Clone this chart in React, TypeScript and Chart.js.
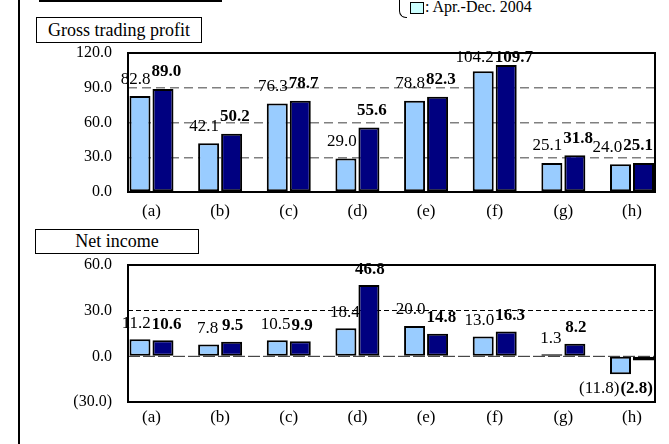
import React, { useEffect, useRef } from "react";
import { Chart, registerables } from "chart.js";

Chart.register(...registerables);

// ---------- data ----------
const categories = ["(a)", "(b)", "(c)", "(d)", "(e)", "(f)", "(g)", "(h)"];
const grossPrev = [82.8, 42.1, 76.3, 29.0, 78.8, 104.2, 25.1, 24.0];
const grossCurr = [89.0, 50.2, 78.7, 55.6, 82.3, 109.7, 31.8, 25.1];
const netPrev = [11.2, 7.8, 10.5, 18.4, 20.0, 13.0, 1.3, -11.8];
const netCurr = [10.6, 9.5, 9.9, 46.8, 14.8, 16.3, 8.2, -2.8];
const grossTicks = [0, 30, 60, 90, 120];
const netTicks = [-30, 0, 30, 60];
const legendLabel = ": Apr.-Dec. 2004";
const grossTitle = "Gross trading profit";
const netTitle = "Net income";

const SERIF = "'Liberation Serif', 'Times New Roman', serif";
const LIGHT = "#99ccff";
const DARK = "#000080";

const fmt = (v: number) => (v < 0 ? `(${Math.abs(v).toFixed(1)})` : v.toFixed(1));

const framePlugin = {
  id: "frame",
  beforeDatasetsDraw(chart: any, _args: any, opts: any) {
    if (!opts.zeroLine) return;
    const { ctx, chartArea } = chart;
    const y = chart.scales.y.getPixelForValue(0);
    ctx.save();
    ctx.strokeStyle = "#222";
    ctx.lineWidth = 1;
    ctx.setLineDash([12, 3]);
    ctx.beginPath();
    ctx.moveTo(chartArea.left, y);
    ctx.lineTo(chartArea.right, y);
    ctx.stroke();
    ctx.restore();
  },
  afterDatasetsDraw(chart: any, _args: any, opts: any) {
    const { ctx, chartArea } = chart;
    ctx.save();
    ctx.strokeStyle = "#000";
    ctx.lineWidth = 2;
    ctx.setLineDash([]);
    ctx.strokeRect(chartArea.left, chartArea.top, chartArea.right - chartArea.left, chartArea.bottom - chartArea.top);
    ctx.textAlign = "center";
    ctx.textBaseline = "middle";
    ctx.fillStyle = "#000";

    const fonts = [`17px ${SERIF}`, `bold 17px ${SERIF}`];
    const metas = chart.data.datasets.map((_: any, di: number) => chart.getDatasetMeta(di));
    const n = chart.data.datasets[0].data.length;
    for (let i = 0; i < n; i++) {
      const labels = chart.data.datasets.map((ds: any, di: number) => {
        const v = ds.data[i].y;
        const bar = metas[di].data[i];
        const text = fmt(v);
        ctx.font = fonts[di];
        const w = ctx.measureText(text).width;
        let cy;
        if (v >= 0) cy = Math.max(bar.y - opts.dy, chartArea.top + 5);
        else cy = bar.y + opts.dyNeg;
        return { v, text, w, cx: bar.x + opts.dx[di], cy, font: fonts[di] };
      });
      const [a, b] = labels;
      if (a.v < 0 && b.v < 0) {
        const y = Math.max(a.cy, b.cy);
        a.cy = y;
        b.cy = y;
      }
      if (Math.abs(a.cy - b.cy) < 14) {
        const gap = 1;
        const r0 = a.cx + a.w / 2;
        const l1 = b.cx - b.w / 2;
        if (r0 + gap > l1) {
          const d = (r0 + gap - l1) / 2;
          a.cx -= d;
          b.cx += d;
        }
        const over = b.cx + b.w / 2 - (chartArea.right - 2);
        if (over > 0) {
          a.cx -= over;
          b.cx -= over;
        }
      }
      labels.forEach((l: any) => {
        ctx.font = l.font;
        ctx.fillText(l.text, l.cx, l.cy);
      });
    }
    ctx.restore();
  },
};

function makeConfig(prev: number[], curr: number[], ticks: number[], o: any) {
  const yMin = ticks[0];
  const yMax = ticks[ticks.length - 1];
  return {
    type: "bar",
    data: {
      datasets: [
        {
          label: "prev",
          data: prev.map((v, i) => ({ x: i, y: v })),
          backgroundColor: LIGHT,
          borderColor: "#000",
          borderWidth: 2,
          borderSkipped: false,
          categoryPercentage: 0.67,
          barPercentage: 0.913,
        },
        {
          label: "curr",
          data: curr.map((v, i) => ({ x: i, y: v })),
          backgroundColor: DARK,
          borderColor: "#000",
          borderWidth: 2,
          borderSkipped: false,
          categoryPercentage: 0.67,
          barPercentage: 0.913,
        },
      ],
    },
    options: {
      animation: false,
      responsive: false,
      maintainAspectRatio: false,
      devicePixelRatio: 1,
      layout: { padding: { top: o.padTop, right: 14, left: 0, bottom: 0 } },
      plugins: {
        legend: { display: false },
        tooltip: { enabled: false },
        frame: { dx: o.dx, dy: o.dy, dyNeg: 14, zeroLine: o.zeroLine },
      },
      scales: {
        x: {
          type: "linear",
          offset: false,
          min: -0.342,
          max: 7.335,
          afterBuildTicks: (s: any) => {
            s.ticks = categories.map((_, i) => ({ value: i }));
          },
          afterFit: (s: any) => {
            s.height = 38;
            s.paddingLeft = 0;
            s.paddingRight = 0;
          },
          ticks: {
            callback: (v: any) => categories[Math.round(v)] ?? "",
            font: { family: SERIF, size: 17 },
            color: "#000",
            padding: o.xPad,
            maxRotation: 0,
            autoSkip: false,
          },
          grid: { display: false, drawTicks: false, offset: false },
          border: { display: false },
        },
        y: {
          type: "linear",
          min: yMin,
          max: yMax,
          afterBuildTicks: (s: any) => {
            s.ticks = ticks.map((v) => ({ value: v }));
          },
          afterFit: (s: any) => {
            s.width = 128;
            s.paddingTop = 0;
            s.paddingBottom = 0;
          },
          ticks: {
            callback: (v: any) => fmt(v),
            font: { family: SERIF, size: 16 },
            color: "#000",
            padding: 16,
          },
          grid: {
            drawTicks: false,
            lineWidth: o.gridWidth,
            color: (c: any) => {
              const v = c.tick?.value;
              if (v === yMin || v === yMax || v === 0) return "rgba(0,0,0,0)";
              return o.gridColor;
            },
          },
          border: { display: false, dash: o.gridDash },
        },
      },
    },
    plugins: [framePlugin],
  };
}

function ChartCanvas({ cfg, top }: { cfg: any; top: number }) {
  const ref = useRef<HTMLCanvasElement | null>(null);
  useEffect(() => {
    if (!ref.current) return;
    const chart = new Chart(ref.current, cfg);
    return () => chart.destroy();
  }, []);
  return (
    <canvas
      ref={ref}
      width={669}
      height={190}
      style={{ position: "absolute", left: 0, top, width: 669, height: 190 }}
    />
  );
}

const boxStyle = (left: number, top: number, width: number, height: number): React.CSSProperties => ({
  position: "absolute",
  left,
  top,
  width,
  height,
  boxSizing: "border-box",
  border: "1px solid #000",
  fontFamily: SERIF,
  fontSize: 18,
  lineHeight: `${height - 2}px`,
  textAlign: "center",
  background: "#fff",
  color: "#000",
});

export default function App() {
  const grossCfg = makeConfig(grossPrev, grossCurr, grossTicks, {
    padTop: 13,
    xPad: 9,
    dx: [-4, 3],
    dy: 17,
    gridColor: "#808080",
    gridWidth: 1.5,
    gridDash: [9, 5],
    zeroLine: false,
  });
  const netCfg = makeConfig(netPrev, netCurr, netTicks, {
    padTop: 15,
    xPad: 5,
    dx: [-1, 1],
    dy: 16,
    gridColor: "#000",
    gridWidth: 1,
    gridDash: [5, 3],
    zeroLine: true,
  });
  return (
    <div
      style={{
        position: "absolute",
        left: 0,
        top: 0,
        width: 669,
        height: 444,
        background: "#fff",
        overflow: "hidden",
      }}
    >
      <div style={{ position: "absolute", left: 18, top: 0, width: 2, height: 444, background: "#000" }} />
      <div style={{ position: "absolute", left: 39, top: 0, width: 183, height: 2, background: "#000" }} />
      <div
        style={{
          position: "absolute",
          left: 399,
          top: -6,
          width: 8,
          height: 24,
          boxSizing: "border-box",
          borderLeft: "1.5px solid #000",
          borderBottom: "1.5px solid #000",
          borderBottomLeftRadius: 7,
        }}
      />
      <div
        style={{
          position: "absolute",
          left: 410,
          top: 2,
          width: 14,
          height: 12,
          boxSizing: "border-box",
          border: "1.5px solid #000",
          background: "#ccffff",
        }}
      />
      <div
        style={{
          position: "absolute",
          left: 425,
          top: -2,
          fontFamily: SERIF,
          fontSize: 16,
          lineHeight: "18px",
          whiteSpace: "nowrap",
          color: "#000",
        }}
      >
        {legendLabel}
      </div>
      <ChartCanvas cfg={grossCfg} top={40} />
      <ChartCanvas cfg={netCfg} top={250} />
      <div style={boxStyle(36, 17, 166, 26)}>{grossTitle}</div>
      <div style={boxStyle(35, 229, 164, 25)}>{netTitle}</div>
    </div>
  );
}
